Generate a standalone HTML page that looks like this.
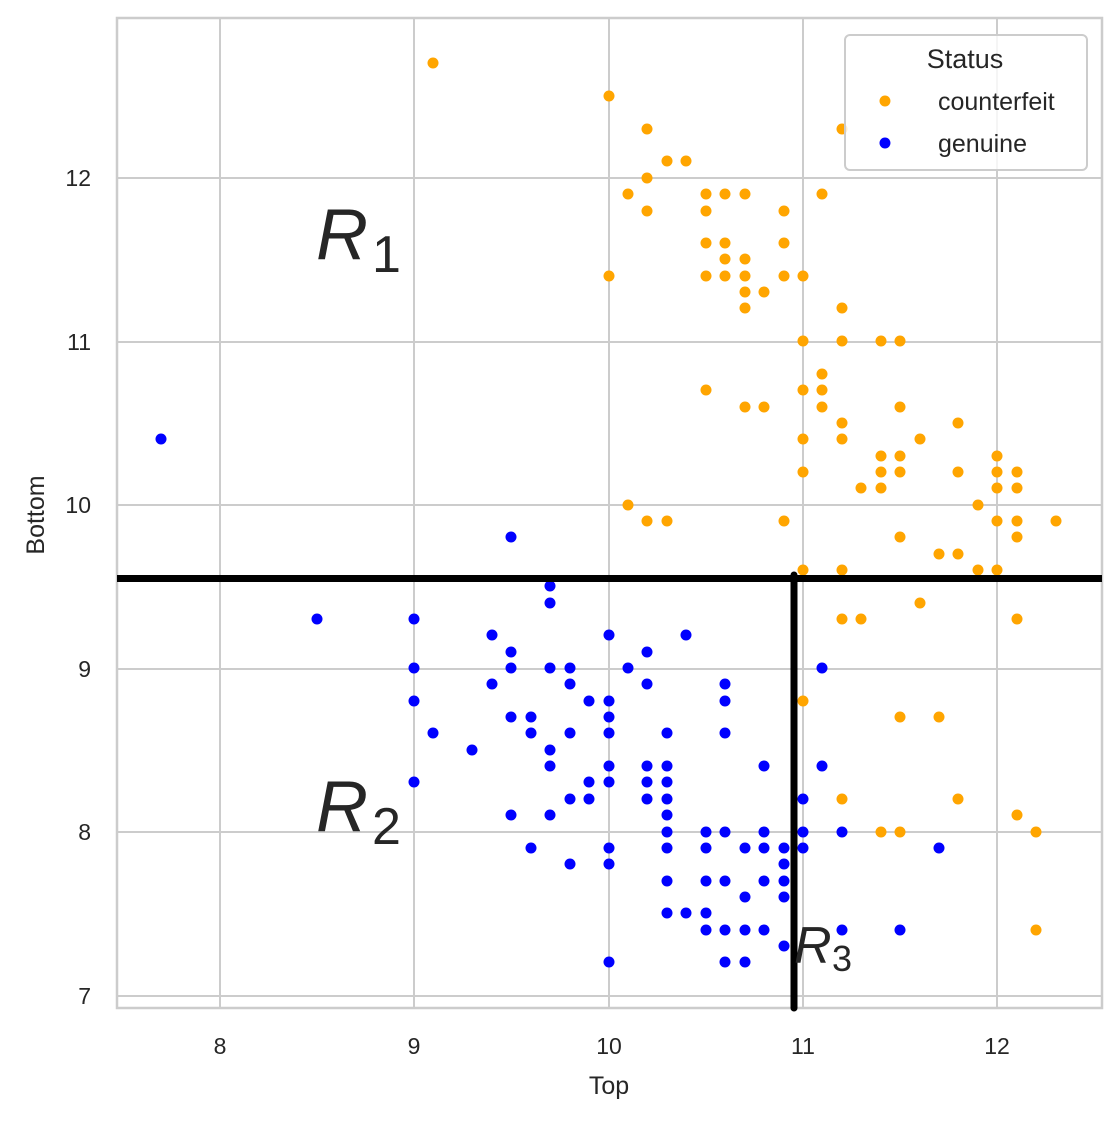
<!DOCTYPE html>
<html><head><meta charset="utf-8"><style>
html,body{margin:0;padding:0;background:#fff;}
text{font-family:"Liberation Sans","DejaVu Sans",sans-serif;fill:#262626;}
</style></head><body>
<svg width="1120" height="1120" viewBox="0 0 1120 1120" xmlns="http://www.w3.org/2000/svg">
<rect width="1120" height="1120" fill="#fff"/>
<g stroke="#cccccc" stroke-width="2">
<line x1="220" y1="18" x2="220" y2="1008"/><line x1="414" y1="18" x2="414" y2="1008"/><line x1="609" y1="18" x2="609" y2="1008"/><line x1="803" y1="18" x2="803" y2="1008"/><line x1="997" y1="18" x2="997" y2="1008"/>
<line x1="117" y1="178" x2="1102" y2="178"/><line x1="117" y1="342" x2="1102" y2="342"/><line x1="117" y1="505" x2="1102" y2="505"/><line x1="117" y1="669" x2="1102" y2="669"/><line x1="117" y1="832" x2="1102" y2="832"/><line x1="117" y1="996" x2="1102" y2="996"/>
</g>
<rect x="117" y="18" width="985" height="990" fill="none" stroke="#cccccc" stroke-width="2.5"/>
<g font-size="23" text-anchor="middle">
<text x="220" y="1054">8</text><text x="414" y="1054">9</text><text x="609" y="1054">10</text><text x="803" y="1054">11</text><text x="997" y="1054">12</text>
</g>
<g font-size="23" text-anchor="end">
<text x="91" y="186">12</text><text x="91" y="350">11</text><text x="91" y="513">10</text><text x="91" y="677">9</text><text x="91" y="840">8</text><text x="91" y="1004">7</text>
</g>
<text x="609" y="1094" font-size="25" text-anchor="middle">Top</text>
<text transform="translate(44,515) rotate(-90)" font-size="25" text-anchor="middle">Bottom</text>
<g fill="#ffa500">
<circle cx="433" cy="63" r="5.5"/><circle cx="609" cy="96" r="5.5"/><circle cx="647" cy="129" r="5.5"/><circle cx="842" cy="129" r="5.5"/><circle cx="667" cy="161" r="5.5"/><circle cx="686" cy="161" r="5.5"/><circle cx="647" cy="178" r="5.5"/><circle cx="628" cy="194" r="5.5"/><circle cx="706" cy="194" r="5.5"/><circle cx="725" cy="194" r="5.5"/><circle cx="745" cy="194" r="5.5"/><circle cx="822" cy="194" r="5.5"/><circle cx="647" cy="211" r="5.5"/><circle cx="706" cy="211" r="5.5"/><circle cx="784" cy="211" r="5.5"/><circle cx="706" cy="243" r="5.5"/><circle cx="725" cy="243" r="5.5"/><circle cx="784" cy="243" r="5.5"/><circle cx="725" cy="259" r="5.5"/><circle cx="745" cy="259" r="5.5"/><circle cx="609" cy="276" r="5.5"/><circle cx="706" cy="276" r="5.5"/><circle cx="725" cy="276" r="5.5"/><circle cx="745" cy="276" r="5.5"/><circle cx="784" cy="276" r="5.5"/><circle cx="803" cy="276" r="5.5"/><circle cx="745" cy="292" r="5.5"/><circle cx="764" cy="292" r="5.5"/><circle cx="745" cy="308" r="5.5"/><circle cx="842" cy="308" r="5.5"/><circle cx="803" cy="341" r="5.5"/><circle cx="842" cy="341" r="5.5"/><circle cx="881" cy="341" r="5.5"/><circle cx="900" cy="341" r="5.5"/><circle cx="822" cy="374" r="5.5"/><circle cx="706" cy="390" r="5.5"/><circle cx="803" cy="390" r="5.5"/><circle cx="822" cy="390" r="5.5"/><circle cx="745" cy="407" r="5.5"/><circle cx="764" cy="407" r="5.5"/><circle cx="822" cy="407" r="5.5"/><circle cx="900" cy="407" r="5.5"/><circle cx="842" cy="423" r="5.5"/><circle cx="958" cy="423" r="5.5"/><circle cx="803" cy="439" r="5.5"/><circle cx="842" cy="439" r="5.5"/><circle cx="920" cy="439" r="5.5"/><circle cx="881" cy="456" r="5.5"/><circle cx="900" cy="456" r="5.5"/><circle cx="997" cy="456" r="5.5"/><circle cx="803" cy="472" r="5.5"/><circle cx="881" cy="472" r="5.5"/><circle cx="900" cy="472" r="5.5"/><circle cx="958" cy="472" r="5.5"/><circle cx="997" cy="472" r="5.5"/><circle cx="1017" cy="472" r="5.5"/><circle cx="861" cy="488" r="5.5"/><circle cx="881" cy="488" r="5.5"/><circle cx="997" cy="488" r="5.5"/><circle cx="1017" cy="488" r="5.5"/><circle cx="978" cy="505" r="5.5"/><circle cx="628" cy="505" r="5.5"/><circle cx="647" cy="521" r="5.5"/><circle cx="667" cy="521" r="5.5"/><circle cx="784" cy="521" r="5.5"/><circle cx="997" cy="521" r="5.5"/><circle cx="1017" cy="521" r="5.5"/><circle cx="1056" cy="521" r="5.5"/><circle cx="900" cy="537" r="5.5"/><circle cx="1017" cy="537" r="5.5"/><circle cx="939" cy="554" r="5.5"/><circle cx="958" cy="554" r="5.5"/><circle cx="803" cy="570" r="5.5"/><circle cx="842" cy="570" r="5.5"/><circle cx="978" cy="570" r="5.5"/><circle cx="997" cy="570" r="5.5"/><circle cx="920" cy="603" r="5.5"/><circle cx="842" cy="619" r="5.5"/><circle cx="861" cy="619" r="5.5"/><circle cx="1017" cy="619" r="5.5"/><circle cx="803" cy="701" r="5.5"/><circle cx="900" cy="717" r="5.5"/><circle cx="939" cy="717" r="5.5"/><circle cx="842" cy="799" r="5.5"/><circle cx="958" cy="799" r="5.5"/><circle cx="881" cy="832" r="5.5"/><circle cx="900" cy="832" r="5.5"/><circle cx="1017" cy="815" r="5.5"/><circle cx="1036" cy="832" r="5.5"/><circle cx="1036" cy="930" r="5.5"/>
</g>
<g fill="#0000ff">
<circle cx="161" cy="439" r="5.5"/><circle cx="511" cy="537" r="5.5"/><circle cx="550" cy="586" r="5.5"/><circle cx="550" cy="603" r="5.5"/><circle cx="317" cy="619" r="5.5"/><circle cx="414" cy="619" r="5.5"/><circle cx="492" cy="635" r="5.5"/><circle cx="609" cy="635" r="5.5"/><circle cx="686" cy="635" r="5.5"/><circle cx="511" cy="652" r="5.5"/><circle cx="647" cy="652" r="5.5"/><circle cx="414" cy="668" r="5.5"/><circle cx="511" cy="668" r="5.5"/><circle cx="550" cy="668" r="5.5"/><circle cx="570" cy="668" r="5.5"/><circle cx="628" cy="668" r="5.5"/><circle cx="822" cy="668" r="5.5"/><circle cx="492" cy="684" r="5.5"/><circle cx="570" cy="684" r="5.5"/><circle cx="647" cy="684" r="5.5"/><circle cx="725" cy="684" r="5.5"/><circle cx="414" cy="701" r="5.5"/><circle cx="589" cy="701" r="5.5"/><circle cx="609" cy="701" r="5.5"/><circle cx="725" cy="701" r="5.5"/><circle cx="511" cy="717" r="5.5"/><circle cx="531" cy="717" r="5.5"/><circle cx="609" cy="717" r="5.5"/><circle cx="433" cy="733" r="5.5"/><circle cx="531" cy="733" r="5.5"/><circle cx="570" cy="733" r="5.5"/><circle cx="609" cy="733" r="5.5"/><circle cx="667" cy="733" r="5.5"/><circle cx="725" cy="733" r="5.5"/><circle cx="472" cy="750" r="5.5"/><circle cx="550" cy="750" r="5.5"/><circle cx="550" cy="766" r="5.5"/><circle cx="609" cy="766" r="5.5"/><circle cx="647" cy="766" r="5.5"/><circle cx="667" cy="766" r="5.5"/><circle cx="764" cy="766" r="5.5"/><circle cx="822" cy="766" r="5.5"/><circle cx="414" cy="782" r="5.5"/><circle cx="589" cy="782" r="5.5"/><circle cx="609" cy="782" r="5.5"/><circle cx="647" cy="782" r="5.5"/><circle cx="667" cy="782" r="5.5"/><circle cx="570" cy="799" r="5.5"/><circle cx="589" cy="799" r="5.5"/><circle cx="647" cy="799" r="5.5"/><circle cx="667" cy="799" r="5.5"/><circle cx="803" cy="799" r="5.5"/><circle cx="511" cy="815" r="5.5"/><circle cx="550" cy="815" r="5.5"/><circle cx="667" cy="815" r="5.5"/><circle cx="667" cy="832" r="5.5"/><circle cx="706" cy="832" r="5.5"/><circle cx="725" cy="832" r="5.5"/><circle cx="764" cy="832" r="5.5"/><circle cx="803" cy="832" r="5.5"/><circle cx="842" cy="832" r="5.5"/><circle cx="531" cy="848" r="5.5"/><circle cx="609" cy="848" r="5.5"/><circle cx="667" cy="848" r="5.5"/><circle cx="706" cy="848" r="5.5"/><circle cx="745" cy="848" r="5.5"/><circle cx="764" cy="848" r="5.5"/><circle cx="784" cy="848" r="5.5"/><circle cx="803" cy="848" r="5.5"/><circle cx="939" cy="848" r="5.5"/><circle cx="570" cy="864" r="5.5"/><circle cx="609" cy="864" r="5.5"/><circle cx="784" cy="864" r="5.5"/><circle cx="667" cy="881" r="5.5"/><circle cx="706" cy="881" r="5.5"/><circle cx="725" cy="881" r="5.5"/><circle cx="764" cy="881" r="5.5"/><circle cx="784" cy="881" r="5.5"/><circle cx="745" cy="897" r="5.5"/><circle cx="784" cy="897" r="5.5"/><circle cx="667" cy="913" r="5.5"/><circle cx="686" cy="913" r="5.5"/><circle cx="706" cy="913" r="5.5"/><circle cx="706" cy="930" r="5.5"/><circle cx="725" cy="930" r="5.5"/><circle cx="745" cy="930" r="5.5"/><circle cx="764" cy="930" r="5.5"/><circle cx="842" cy="930" r="5.5"/><circle cx="900" cy="930" r="5.5"/><circle cx="784" cy="946" r="5.5"/><circle cx="609" cy="962" r="5.5"/><circle cx="725" cy="962" r="5.5"/><circle cx="745" cy="962" r="5.5"/>
</g>
<line x1="117" y1="578.5" x2="1102" y2="578.5" stroke="#000" stroke-width="7"/>
<line x1="794" y1="575" x2="794" y2="1008" stroke="#000" stroke-width="7" stroke-linecap="round"/>
<text x="316" y="259" font-size="72" font-style="italic">R</text><text x="372" y="272" font-size="52">1</text>
<text x="316" y="831" font-size="72" font-style="italic">R</text><text x="372" y="844" font-size="52">2</text>
<text x="794" y="963" font-size="52" font-style="italic">R</text><text x="832" y="971" font-size="36">3</text>
<rect x="845" y="35" width="242" height="135" rx="5" fill="#fff" fill-opacity="0.8" stroke="#cccccc" stroke-width="2"/>
<text x="965" y="68" font-size="27" text-anchor="middle">Status</text>
<circle cx="885" cy="101" r="5.5" fill="#ffa500"/>
<circle cx="885" cy="143" r="5.5" fill="#0000ff"/>
<text x="938" y="110" font-size="25">counterfeit</text>
<text x="938" y="152" font-size="25">genuine</text>
</svg>
</body></html>
